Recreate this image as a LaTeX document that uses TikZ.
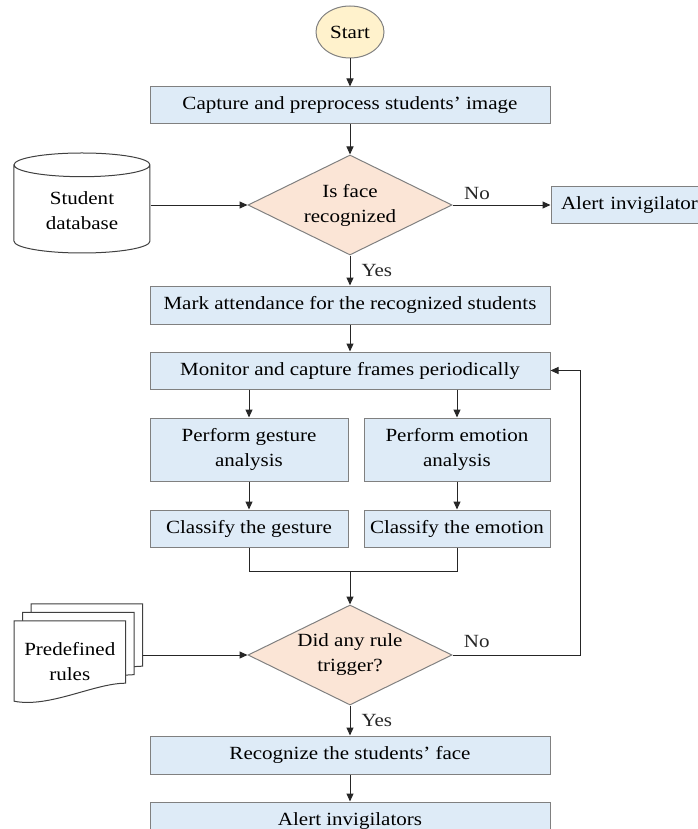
\documentclass[tikz,border=0pt]{standalone}
\usepackage{fontspec}
\setmainfont[FakeStretch=1.13]{Liberation Serif}
\usetikzlibrary{positioning, arrows.meta, shapes.geometric, backgrounds}
\definecolor{boxblue}{HTML}{DEEBF7}
\definecolor{decpeach}{HTML}{FBE5D6}
\definecolor{startyellow}{HTML}{FFF2CC}
\definecolor{edgegray}{HTML}{808080}
\definecolor{inkgray}{HTML}{404040}

\begin{document}
\begin{tikzpicture}[
    x=1pt, y=1pt,
    font=\rmfamily\fontsize{18.6}{25}\selectfont,
    box/.style={
      draw=edgegray, line width=1pt, fill=boxblue, align=center,
      minimum width=400pt, minimum height=37pt, inner sep=3pt
    },
    halfbox/.style={box, minimum width=198pt},
    dec/.style={
      diamond, aspect=2, draw=edgegray, line width=1pt, fill=decpeach,
      align=center, minimum width=204pt, minimum height=100pt, inner sep=0pt
    },
    term/.style={
      ellipse, draw=edgegray, line width=1pt, fill=startyellow,
      minimum width=68pt, minimum height=52pt, inner sep=0pt
    },
    store/.style={
      cylinder, shape border rotate=90, aspect=0.3, draw=inkgray,
      line width=1pt, fill=white, align=center,
      minimum width=136pt, minimum height=100pt
    },
    page/.style={draw=inkgray, line width=1pt, fill=white},
    lbl/.style={inner sep=0pt},
    conn/.style={line width=1pt, black!85},
    arr/.style={conn, -{Triangle[length=8pt, width=7pt]}},
  ]
    \useasboundingbox (0,0) rectangle (697,-829);

    % main flow
    \node[term] (start) at (350,-32) {Start};
    \node[box, below=28pt of start] (capture) {Capture and preprocess students’ image};
    \node[dec, below=30pt of capture] (face) {Is face\\recognized};
    \node[store, left=97pt of face, yshift=-6pt] (studdb) {Student\\database};
    \node[box, right=98pt of face, minimum width=0pt, text width=150pt,
      align=left, inner xsep=10pt] (alert1) {Alert invigilator};
    \node[box, below=30pt of face, minimum height=38pt] (mark) {Mark attendance for the recognized students};
    \node[box, below=27pt of mark] (monitor) {Monitor and capture frames periodically};

    % two branches
    \node[halfbox, minimum height=63pt,
      below right=28pt and 0pt of monitor.south west] (gesture) {Perform gesture\\analysis};
    \node[halfbox, minimum width=186pt, minimum height=63pt,
      below left=28pt and 0pt of monitor.south east] (emotion) {Perform emotion\\analysis};
    \node[halfbox, below=28pt of gesture] (clgest) {Classify the gesture};
    \node[halfbox, minimum width=186pt, below=28pt of emotion] (clemo) {Classify the emotion};
    \coordinate (merge) at ([yshift=-24pt]clgest.south -| face.south);

    \node[dec, below=33pt of merge] (rule) {Did any rule\\trigger?};
    \node[inner sep=0pt, align=center, minimum width=111pt, minimum height=82pt,
      left=122pt of rule, yshift=-7pt] (rules) {Predefined\\rules};
    \coordinate (rulesout) at ([xshift=17pt]rules.east);
    \node[box, below=30pt of rule, minimum height=38pt] (recog) {Recognize the students’ face};
    \node[box, below=27pt of recog, minimum height=38pt] (alert2) {Alert invigilators};

    % stacked pages
    \begin{scope}[on background layer]
      \foreach \d in {17, 8.5, 0} {
        \draw[page] ([shift={(\d,\d+2)}]rules.south west)
          -- ([shift={(\d,\d)}]rules.north west)
          -- ([shift={(\d,\d)}]rules.north east)
          -- ([shift={(\d,\d+20)}]rules.south east)
          .. controls ([shift={(\d-31,\d+20)}]rules.south east)
             and ([shift={(\d+35,\d-5)}]rules.south west)
          .. ([shift={(\d,\d+2)}]rules.south west) -- cycle;
      }
    \end{scope}

    \draw[arr] (start) -- (capture);
    \draw[arr] (capture) -- (face);
    \draw[arr] (studdb.east |- face.west) -- (face.west);
    \draw[arr] (face.east) -- node[lbl, pos=0.25, above=5pt] (no1) {No} (alert1.west);
    \draw[arr] (face.south) -- node[lbl, right=11pt] (yes1) {Yes} (mark.north);
    \draw[arr] (mark) -- (monitor);
    \draw[arr] (monitor.south -| gesture.north) -- (gesture.north);
    \draw[arr] (monitor.south -| emotion.north) -- (emotion.north);
    \draw[arr] (gesture) -- (clgest);
    \draw[arr] (emotion) -- (clemo);
    \draw[conn] (clgest.south) |- (merge) -| (clemo.south);
    \draw[arr] (merge) -- (rule.north);
    \draw[arr] (rulesout |- rule.west) -- (rule.west);
    \draw[arr] (rule.east) -- node[lbl, pos=0.19, above=7pt] (no2) {No} ++(128,0) |- (monitor.east);
    \draw[arr] (rule.south) -- node[lbl, right=11pt] (yes2) {Yes} (recog.north);
    \draw[arr] (recog) -- (alert2);
  \end{tikzpicture}
\end{document}
